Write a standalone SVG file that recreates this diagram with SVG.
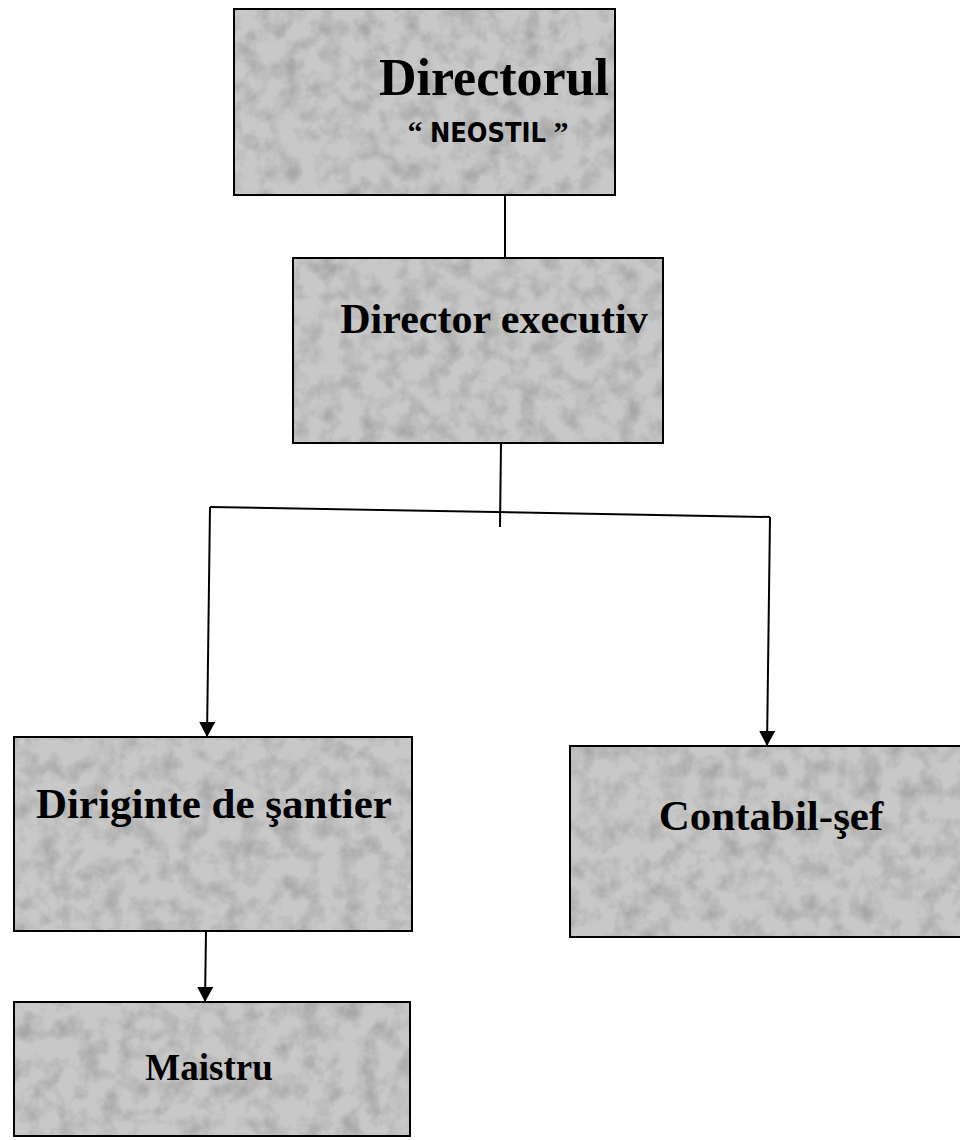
<svg xmlns="http://www.w3.org/2000/svg" width="960" height="1140" viewBox="0 0 960 1140">
<style>
.box{fill:#c8c8c8;stroke:#000;stroke-width:2}
.tex{fill:#000;opacity:0.16;filter:url(#grain)}
.t{font-family:"Liberation Serif","Times New Roman",serif;font-weight:bold;fill:#000;text-anchor:middle}
.s{font-family:"DejaVu Sans Condensed","Liberation Sans",sans-serif;font-weight:bold;fill:#000;text-anchor:middle}
.q{font-family:"Liberation Serif","Times New Roman",serif;font-weight:bold}
.ln{fill:none;stroke:#000;stroke-width:2}
</style>
<defs>
<filter id="grain" x="0" y="0" width="100%" height="100%">
<feTurbulence type="fractalNoise" baseFrequency="0.05" numOctaves="4" seed="4" result="n"/>
<feColorMatrix in="n" type="matrix" values="0 0 0 0 0  0 0 0 0 0  0 0 0 0 0  0 0 0 -2.2 1.3"/>
<feComposite in2="SourceGraphic" operator="in"/>
</filter>
<marker id="arr" viewBox="0 0 15 16" refX="15" refY="8" markerWidth="15" markerHeight="16" markerUnits="userSpaceOnUse" orient="auto">
<path d="M0,0 L15,8 L0,16 Z" fill="#000"/>
</marker>
</defs>
<g id="connectors">
<line class="ln" x1="505" y1="196" x2="505" y2="258"/>
<line class="ln" x1="501" y1="443" x2="500" y2="527"/>
<polyline class="ln" points="210,507 770,517"/>
<line class="ln" x1="210" y1="507" x2="207" y2="737" marker-end="url(#arr)"/>
<line class="ln" x1="770" y1="517" x2="767" y2="746" marker-end="url(#arr)"/>
<line class="ln" x1="206" y1="931" x2="205" y2="1002" marker-end="url(#arr)"/>
</g>
<g id="n1">
<rect class="box" x="234" y="9" width="381" height="186"/>
<rect class="tex" x="235" y="10" width="379" height="184"/>
<text class="t" x="494" y="95" font-size="52">Directorul</text>
<text class="s" x="488" y="142" font-size="27"><tspan class="q" font-size="30">“ </tspan>NEOSTIL<tspan class="q" font-size="30"> ”</tspan></text>
</g>
<g id="n2">
<rect class="box" x="293" y="258" width="370" height="185"/>
<rect class="tex" x="294" y="259" width="368" height="183"/>
<text class="t" x="494" y="333" font-size="42">Director executiv</text>
</g>
<g id="n3">
<rect class="box" x="14" y="737" width="398" height="194"/>
<rect class="tex" x="15" y="738" width="396" height="192"/>
<text class="t" x="214" y="818" font-size="43">Diriginte de şantier</text>
</g>
<g id="n4">
<rect class="box" x="14" y="1002" width="396" height="134"/>
<rect class="tex" x="15" y="1003" width="394" height="132"/>
<text class="t" x="209" y="1080" font-size="37">Maistru</text>
</g>
<g id="n5">
<rect class="box" x="570" y="746" width="392" height="191"/>
<rect class="tex" x="571" y="747" width="390" height="189"/>
<text class="t" x="771" y="830" font-size="43">Contabil-şef</text>
</g>
</svg>
